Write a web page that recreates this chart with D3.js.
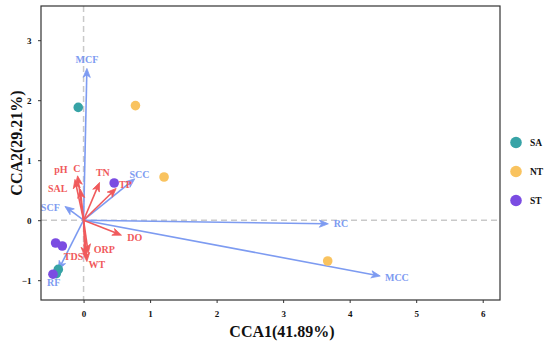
<!DOCTYPE html>
<html><head><meta charset="utf-8">
<script src="https://cdn.jsdelivr.net/npm/d3@7"></script>
<style>body{margin:0;background:#fff}svg{display:block}text{font-family:"Liberation Serif","Times New Roman",serif}</style>
</head><body><svg id="c" width="550" height="342"></svg>
<script>
// ---- data ----
const groups = ["SA", "NT", "ST"];
const groupColors = ["#37A3A6", "#F9C35F", "#7B4CE2"];
const saX = [-0.08, -0.38, -0.41];
const saY = [1.88, -0.82, -0.89];
const ntX = [0.78, 1.21, 3.67];
const ntY = [1.91, 0.72, -0.68];
const stX = [0.46, -0.42, -0.32, -0.46];
const stY = [0.62, -0.38, -0.43, -0.90];

const speciesNames = ["MCF", "SCC", "SCF", "RF", "RC", "MCC"];
const speciesX = [0.05, 0.77, -0.28, -0.38, 3.68, 4.46];
const speciesY = [2.53, 0.69, 0.23, -0.83, -0.06, -0.93];
const speciesLabelX = [0.05, 0.84, -0.50, -0.45, 3.87, 4.71];
const speciesLabelY = [2.68, 0.76, 0.22, -1.03, -0.05, -0.96];

const envNames = ["pH", "C", "SAL", "TN", "TP", "DO", "ORP", "WT", "TDS"];
const envX = [-0.13, -0.09, -0.05, 0.24, 0.49, 0.57, 0.07, 0.05, 0.02];
const envY = [0.68, 0.74, 0.52, 0.63, 0.53, -0.25, -0.55, -0.69, -0.60];
const envLabelX = [-0.34, -0.10, -0.39, 0.29, 0.63, 0.77, 0.31, 0.20, -0.15];
const envLabelY = [0.85, 0.87, 0.53, 0.79, 0.60, -0.28, -0.48, -0.74, -0.60];

const xTicks = [0, 1, 2, 3, 4, 5, 6];
const yTicks = [-1, 0, 1, 2, 3];
const xTitle = "CCA1(41.89%)";
const yTitle = "CCA2(29.21%)";

// ---- layout ----
const svg = d3.select("#c");
const L = 41, R = 500, T = 6, B = 300;
const x = d3.scaleLinear().domain([-0.64, 6.26]).range([L, R]);
const y = d3.scaleLinear().domain([-1.33, 3.57]).range([B, T]);
const blue = "#7D9BF1", red = "#F05A5C";

// zero lines
svg.append("line").attr("x1", L).attr("x2", R).attr("y1", y(0)).attr("y2", y(0))
  .attr("stroke", "#C9C9C9").attr("stroke-width", 1.5).attr("stroke-dasharray", "6,4");
svg.append("line").attr("x1", x(0)).attr("x2", x(0)).attr("y1", T).attr("y2", B)
  .attr("stroke", "#C9C9C9").attr("stroke-width", 1.5).attr("stroke-dasharray", "6,4");

// axes
const xa = svg.append("g").attr("transform", `translate(0,${B})`)
  .call(d3.axisBottom(x).tickValues(xTicks).tickSize(3).tickFormat(d3.format("d")));
const ya = svg.append("g").attr("transform", `translate(${L},0)`)
  .call(d3.axisLeft(y).tickValues(yTicks).tickSize(3).tickFormat(d3.format("d")));
[xa, ya].forEach(g => {
  g.attr("font-family", "Liberation Serif");
  g.select(".domain").remove();
  g.selectAll("line").attr("stroke", "#333");
  g.selectAll("text").attr("font-size", 9).attr("font-weight", "bold").attr("fill", "#111")
   .attr("font-family", "Liberation Serif");
});
xa.selectAll("text").attr("dy", "1.2em");
ya.selectAll("text").attr("dx", "-0.4em");

// arrows
function arrow(x0, y0, x1, y1, col) {
  const a = Math.atan2(y1 - y0, x1 - x0), len = 9, w = 3.6, back = 6.5;
  const p = (d, s) => [x1 - Math.cos(a) * d - Math.sin(a) * s, y1 - Math.sin(a) * d + Math.cos(a) * s];
  svg.append("line").attr("x1", x0).attr("y1", y0).attr("x2", x1 - Math.cos(a) * 3).attr("y2", y1 - Math.sin(a) * 3)
    .attr("stroke", col).attr("stroke-width", 1.6);
  const pts = [[x1, y1], p(len, w), p(back, 0), p(len, -w)];
  svg.append("path").attr("d", "M" + pts.map(q => q.join(",")).join("L") + "Z")
    .attr("fill", col).attr("stroke", col).attr("stroke-width", 0.8).attr("stroke-linejoin", "miter");
}
speciesNames.forEach((n, i) => arrow(x(0), y(0), x(speciesX[i]), y(speciesY[i]), blue));
envNames.forEach((n, i) => arrow(x(0), y(0), x(envX[i]), y(envY[i]), red));

// labels
speciesNames.forEach((n, i) => svg.append("text").attr("x", x(speciesLabelX[i])).attr("y", y(speciesLabelY[i]))
  .attr("text-anchor", "middle").attr("dominant-baseline", "central").attr("font-size", 10)
  .attr("font-weight", "bold").attr("fill", blue).text(n));
envNames.forEach((n, i) => svg.append("text").attr("x", x(envLabelX[i])).attr("y", y(envLabelY[i]))
  .attr("text-anchor", "middle").attr("dominant-baseline", "central").attr("font-size", 10)
  .attr("font-weight", "bold").attr("fill", red).text(n));

// points
const pts = [[saX, saY], [ntX, ntY], [stX, stY]];
pts.forEach(([xs, ys], g) => {
  svg.append("g").selectAll("circle").data(xs).join("circle")
    .attr("cx", d => x(d)).attr("cy", (d, i) => y(ys[i])).attr("r", 4.8).attr("fill", groupColors[g]);
});

// panel border
svg.append("rect").attr("x", L).attr("y", T).attr("width", R - L).attr("height", B - T)
  .attr("fill", "none").attr("stroke", "#333").attr("stroke-width", 1.2);

// titles
svg.append("text").attr("x", 282).attr("y", 337).attr("text-anchor", "middle")
  .attr("font-size", 16).attr("font-weight", "bold").attr("fill", "#111").text(xTitle);
svg.append("text").attr("transform", "translate(22,143) rotate(-90)").attr("text-anchor", "middle")
  .attr("font-size", 16).attr("font-weight", "bold").attr("fill", "#111").text(yTitle);

// legend
groups.forEach((g, i) => {
  svg.append("circle").attr("cx", 516).attr("cy", 142.5 + i * 29).attr("r", 5.8).attr("fill", groupColors[i]);
  svg.append("text").attr("x", 530).attr("y", 142.5 + i * 29).attr("dominant-baseline", "central")
    .attr("font-size", 9.5).attr("font-weight", "bold").attr("fill", "#111").text(g);
});
</script></body></html>
